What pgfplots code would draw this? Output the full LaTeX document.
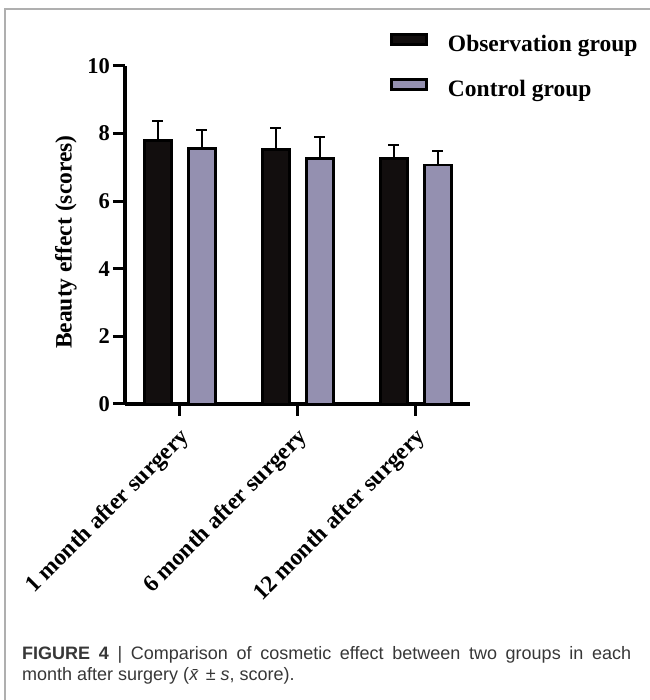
\documentclass[border=0pt]{standalone}
\usepackage{fontspec}
\setmainfont{Liberation Serif}
\newfontfamily\capfont{Liberation Sans}
\usepackage{pgfplots}
\pgfplotsset{compat=1.18}
\definecolor{obsfill}{RGB}{18,14,14}
\definecolor{ctrlfill}{RGB}{148,144,176}
\definecolor{framegray}{RGB}{175,175,175}
\definecolor{captext}{RGB}{55,55,55}
\begin{document}
\begin{tikzpicture}
\path[use as bounding box] (0,0) rectangle (649pt,700pt);
\draw[framegray, line width=1.6pt] (4.7pt,-2pt) -- (4.7pt,691pt) -- (652pt,691pt);
\begin{axis}[
  at={(125pt,296pt)}, anchor=south west,
  scale only axis, width=345pt, height=338pt,
  xmin=-0.466, xmax=2.458, ymin=0, ymax=10,
  axis x line*=bottom, axis y line*=left,
  axis line style={line width=3.3pt, black},
  ytick={0,2,4,6,8,10},
  xtick={0,1,2},
  xticklabels={1 month after surgery, 6 month after surgery, 12 month after surgery},
  tick align=outside, major tick length=12pt,
  tick style={line width=3pt, black},
  /pgf/number format/assume math mode=true,
  yticklabel style={font=\fontsize{22.5}{26}\bfseries\selectfont, inner sep=1pt, xshift=-2pt},
  xticklabel style={font=\fontsize{23.5}{28}\bfseries\selectfont, xshift=6pt, yshift=-18pt, rotate=45, anchor=east, inner sep=0pt},
  ylabel={Beauty effect (scores)},
  ylabel style={font=\fontsize{23.5}{28}\bfseries\selectfont, at={(axis description cs:-0.171,0.479)}, anchor=center},
  legend style={at={(axis description cs:0.7681,1.098)}, anchor=north west, draw=none, fill=none, inner sep=0pt, outer sep=0pt, row sep=21pt, column sep=20pt, font=\fontsize{23.5}{28}\bfseries\selectfont, nodes={inner sep=0pt, text height=17pt, text depth=5pt}},
  legend cell align=left,
]
\addlegendimage{legend image code/.code={\draw[fill=obsfill, draw=black, line width=2.8pt] (1.4pt,1.5pt) rectangle (36.6pt,11.5pt);}}
\addlegendentry{Observation group}
\addlegendimage{legend image code/.code={\draw[fill=ctrlfill, draw=black, line width=2.8pt] (1.4pt,1.5pt) rectangle (36.6pt,11.5pt);}}
\addlegendentry{Control group}
\addplot[ybar, bar width=27pt, bar shift=0pt, fill=obsfill, draw=black, line width=2.8pt, forget plot,
  error bars/y dir=plus, error bars/y explicit,
  error bars/error bar style={line width=2pt, black},
  error bars/error mark options={rotate=90, line width=2pt, mark size=5.5pt, black}]
  coordinates {(-0.1864,7.79) +- (0,0.57) (0.8136,7.53) +- (0,0.64) (1.8136,7.26) +- (0,0.40)};
\addplot[ybar, bar width=27pt, bar shift=0pt, fill=ctrlfill, draw=black, line width=2.8pt, forget plot,
  error bars/y dir=plus, error bars/y explicit,
  error bars/error bar style={line width=2pt, black},
  error bars/error mark options={rotate=90, line width=2pt, mark size=5.5pt, black}]
  coordinates {(0.1864,7.55) +- (0,0.55) (1.1864,7.27) +- (0,0.62) (2.1864,7.07) +- (0,0.41)};
\end{axis}
\node[anchor=base west, inner sep=0pt, text=captext, font=\capfont\fontsize{18}{21}\selectfont] at (22pt,40pt)
  {\makebox[609pt][s]{\textbf{FIGURE 4} | Comparison of cosmetic effect between two groups in each}};
\node[anchor=base west, inner sep=0pt, text=captext, font=\capfont\fontsize{18}{21}\selectfont] at (22pt,19pt)
  {month after surgery (\textit{\=x} ± \textit{s}, score).};
\end{tikzpicture}
\end{document}
